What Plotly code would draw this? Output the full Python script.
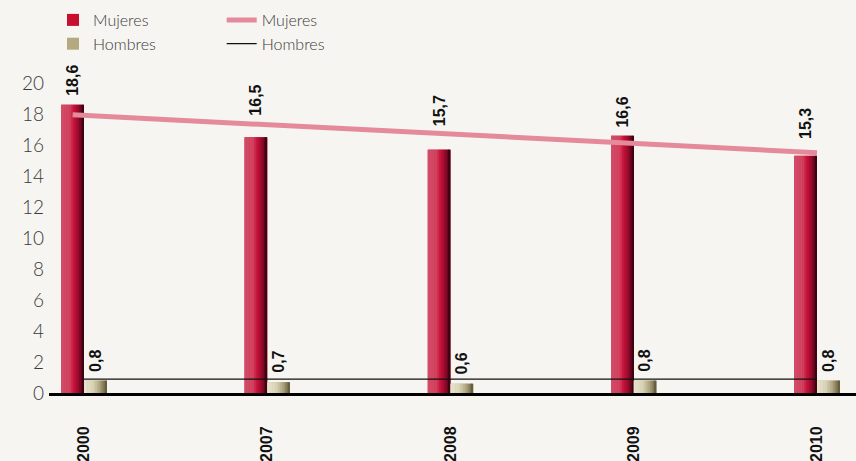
import plotly.graph_objects as go

# Data
years = ["2000", "2007", "2008", "2009", "2010"]
mujeres = [18.6, 16.5, 15.7, 16.6, 15.3]
hombres = [0.8, 0.7, 0.6, 0.8, 0.8]
# Line series (start and end values across the period)
mujeres_linea = [17.95, 15.5]
hombres_linea = [0.9, 0.9]

# Label lift above each bar (px), keeps the labels clear of the line
mujeres_label_gap = [7, 20, 21, 6, 15]
hombres_label_gap = [7, 7, 7, 7, 7]

BG = "#f6f5f1"
BAR_W = 0.124          # width of one bar, in category units
N_STRIPS = 14          # vertical strips used to shade each bar

x_idx = list(range(len(years)))


def fmt(v):
    return f"{v:.1f}".replace(".", ",")


def lerp_hex(stops, t):
    """Interpolate a colour from a list of (pos, '#rrggbb') stops."""
    for (p0, c0), (p1, c1) in zip(stops, stops[1:]):
        if p0 <= t <= p1:
            f = 0 if p1 == p0 else (t - p0) / (p1 - p0)
            a = [int(c0[i:i + 2], 16) for i in (1, 3, 5)]
            b = [int(c1[i:i + 2], 16) for i in (1, 3, 5)]
            return "#" + "".join(f"{round(x + (y - x) * f):02x}" for x, y in zip(a, b))
    return stops[-1][1]


red_stops = [(0.0, "#d24d69"), (0.38, "#d2425f"), (0.55, "#c8123b"),
             (0.78, "#8e0a2a"), (1.0, "#32000c")]
tan_stops = [(0.0, "#e9e5d0"), (0.4, "#d9d3b6"), (0.7, "#aca27c"),
             (1.0, "#5e5538")]

fig = go.Figure()

label_font = dict(family="Liberation Sans, Arial, sans-serif", size=16,
                  color="#111111", weight="bold")


def add_series(name, values, offset, base_color, stops, gaps):
    # base bar carries the legend swatch
    fig.add_trace(go.Bar(
        x=x_idx, y=values, name=name, legend="legend",
        offset=offset, width=BAR_W,
        marker=dict(color=base_color, line=dict(width=0)),
        hoverinfo="skip",
    ))
    # shaded strips across the bar width
    sw = BAR_W / N_STRIPS
    for i in range(N_STRIPS):
        t = (i + 0.5) / N_STRIPS
        fig.add_trace(go.Bar(
            x=x_idx, y=values, showlegend=False,
            offset=offset + i * sw, width=sw * 1.25 if i < N_STRIPS - 1 else sw,
            marker=dict(color=lerp_hex(stops, t), line=dict(width=0)),
            hoverinfo="skip",
        ))
    # rotated value labels above each bar
    for xi, v, g in zip(x_idx, values, gaps):
        fig.add_annotation(
            x=xi + offset + BAR_W / 2, y=v, xref="x", yref="y",
            text=fmt(v), textangle=-90, showarrow=False,
            xanchor="center", yanchor="bottom", yshift=g,
            font=label_font,
        )


add_series("Mujeres", mujeres, -BAR_W, "#c8102e", red_stops, mujeres_label_gap)
add_series("Hombres", hombres, 0.0, "#b3aa7f", tan_stops, hombres_label_gap)

# Line series drawn over the bars
fig.add_trace(go.Scatter(
    x=[x_idx[0] - BAR_W / 2, x_idx[-1]], y=mujeres_linea, mode="lines",
    name="Mujeres", legend="legend2",
    line=dict(color="#e58a9b", width=5), hoverinfo="skip",
))
fig.add_trace(go.Scatter(
    x=[x_idx[0], x_idx[-1]], y=hombres_linea, mode="lines",
    name="Hombres", legend="legend2",
    line=dict(color="#111111", width=1.3), hoverinfo="skip",
))

legend_font = dict(family="Lato, Open Sans, sans-serif", size=16,
                   color="#3a3a3a", weight=300)

fig.update_layout(
    width=856, height=461,
    paper_bgcolor=BG, plot_bgcolor=BG,
    margin=dict(l=49, r=0, t=83, b=68, autoexpand=False),
    barmode="overlay",
    showlegend=True,
    legend=dict(x=53 / 856, xref="container", y=1 - 3 / 461, yref="container",
                xanchor="left", yanchor="top", orientation="v",
                font=legend_font, bgcolor="rgba(0,0,0,0)",
                traceorder="normal", tracegroupgap=0),
    legend2=dict(x=0.259, xref="container", y=1 - 3 / 461, yref="container",
                 xanchor="left", yanchor="top", orientation="v",
                 font=legend_font, bgcolor="rgba(0,0,0,0)",
                 traceorder="normal", tracegroupgap=0),
    xaxis=dict(
        range=[-0.191, 4.213], tickmode="array", tickvals=x_idx,
        ticktext=years, tickangle=-90, showgrid=False, zeroline=False,
        showline=True, linecolor="#000000", linewidth=3,
        ticks="", ticklabelstandoff=24,
        tickfont=dict(family="Liberation Sans, Arial, sans-serif", size=16,
                      color="#111111", weight="bold"),
    ),
    yaxis=dict(
        range=[0, 20], dtick=2, showgrid=False, zeroline=False,
        showline=False, ticks="", ticklabelstandoff=4,
        tickfont=dict(family="Lato, Open Sans, sans-serif", size=19,
                      color="#3a3a3a", weight=300),
    ),
)

fig.write_html("out.html")
